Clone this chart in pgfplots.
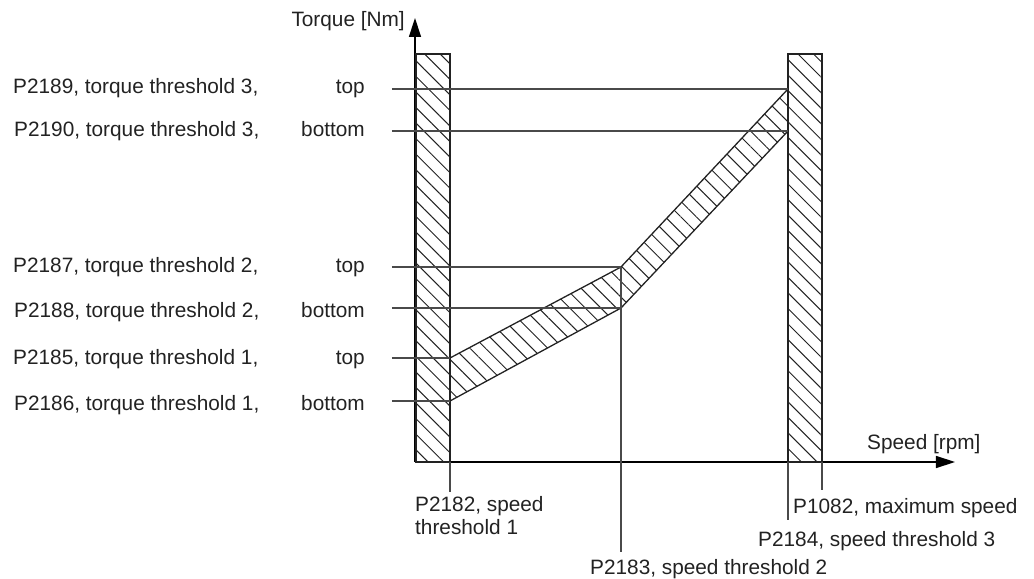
\documentclass[border=0pt]{standalone}
\usepackage{pgfplots}
\pgfplotsset{compat=1.18}
\usepackage{fontspec}
\setmainfont{Liberation Sans}
\usetikzlibrary{patterns.meta,arrows.meta}

\definecolor{ink}{HTML}{222222}
\definecolor{guide}{HTML}{4A4A4A}

% Threshold table: speed (x) and torque (y) in drawing units
\pgfplotstableread{
x    y
416  115
416  523
450  523
450  115
}\leftbar
\pgfplotstableread{
x    y
788  115
788  523
822  523
822  115
}\rightbar
\pgfplotstableread{
x    y
450  176
450  219
621  310
788  488
788  446
621  269
}\band

\tikzset{
  lbl/.style={font=\fontsize{20.8}{22.5}\selectfont, text=ink, inner sep=0pt},
  hatch/.style={draw=ink, line width=1.3pt,
    pattern={Lines[angle=-45,distance=11pt,line width=1pt]}, pattern color=ink},
  guideline/.style={draw=guide, line width=1.2pt},
}

\begin{document}
\begin{tikzpicture}
\begin{axis}[
  scale only axis, width=540pt, height=444pt,
  xmin=415, xmax=955, ymin=115, ymax=559,
  axis lines=left,
  axis line style={line width=1.4pt, draw=black, -{Triangle[length=19pt,width=12pt]}},
  xtick=\empty, ytick=\empty, clip=false,
]
% page frame
\path (axis cs:0,0) rectangle (axis cs:1034,577);

% forbidden speed regions and tolerance band
\addplot[hatch] table {\leftbar} -- cycle;
\addplot[hatch] table {\rightbar} -- cycle;
\addplot[hatch] table {\band} -- cycle;

% torque thresholds
\addplot[guideline] coordinates {(392,488) (788,488)};
\addplot[guideline] coordinates {(392,446) (788,446)};
\addplot[guideline] coordinates {(392,310) (621,310)};
\addplot[guideline] coordinates {(392,269) (621,269)};
\addplot[guideline] coordinates {(392,219) (450,219)};
\addplot[guideline] coordinates {(392,176) (450,176)};

% speed thresholds
\addplot[guideline] coordinates {(450,115) (450,85)};
\addplot[guideline] coordinates {(621,310) (621,25)};
\addplot[guideline] coordinates {(788,115) (788,57)};
\addplot[guideline] coordinates {(822,115) (822,87)};

% axis titles
\node[lbl, anchor=base east] at (axis cs:405,550) {Torque [Nm]};
\node[lbl, anchor=base west] at (axis cs:867,128) {Speed [rpm]};

% torque threshold labels
\node[lbl, anchor=base west] at (axis cs:13,483) {P2189, torque threshold 3,};
\node[lbl, anchor=base east] at (axis cs:365,483) {top};
\node[lbl, anchor=base west] at (axis cs:14,440) {P2190, torque threshold 3,};
\node[lbl, anchor=base east] at (axis cs:365,440) {bottom};
\node[lbl, anchor=base west] at (axis cs:13,305) {P2187, torque threshold 2,};
\node[lbl, anchor=base east] at (axis cs:365,305) {top};
\node[lbl, anchor=base west] at (axis cs:14,260) {P2188, torque threshold 2,};
\node[lbl, anchor=base east] at (axis cs:365,260) {bottom};
\node[lbl, anchor=base west] at (axis cs:13,213) {P2185, torque threshold 1,};
\node[lbl, anchor=base east] at (axis cs:365,213) {top};
\node[lbl, anchor=base west] at (axis cs:14,167) {P2186, torque threshold 1,};
\node[lbl, anchor=base east] at (axis cs:365,167) {bottom};

% speed threshold labels
\node[lbl, anchor=base west, align=left] at (axis cs:415,43) {P2182, speed\\threshold 1};
\node[lbl, anchor=base west] at (axis cs:793,64) {P1082, maximum speed};
\node[lbl, anchor=base west] at (axis cs:758,31) {P2184, speed threshold 3};
\node[lbl, anchor=base west] at (axis cs:590,3) {P2183, speed threshold 2};
\end{axis}
\end{tikzpicture}
\end{document}
